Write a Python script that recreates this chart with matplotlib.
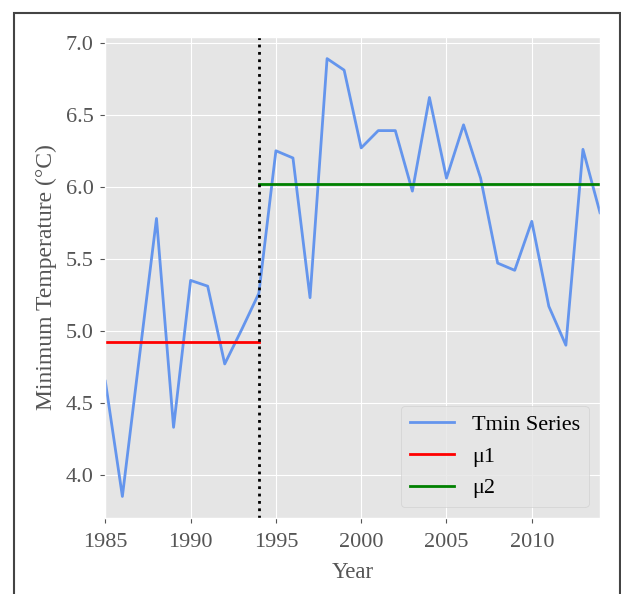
import matplotlib
matplotlib.use('Agg')
import matplotlib.pyplot as plt
from matplotlib.patches import Rectangle

# Tmin series
years = list(range(1985, 2015))
tmin = [4.65, 3.85, 4.82, 5.78, 4.33, 5.35, 5.31, 4.77, 5.01, 5.26,
        6.25, 6.20, 5.23, 6.89, 6.81, 6.27, 6.39, 6.39, 5.97, 6.62,
        6.06, 6.43, 6.06, 5.47, 5.42, 5.76, 5.17, 4.90, 6.26, 5.82]

# change point and segment means
change_year = 1994
mu1 = 4.92
mu2 = 6.02
mu1_span = [1985, 1994]
mu2_span = [1994, 2014]


def plot_series():
    plt.style.use('ggplot')
    plt.rcParams['font.family'] = ['Liberation Serif', 'DejaVu Serif']

    fig = plt.figure(figsize=(6.21, 5.94), dpi=100)
    ax = fig.add_axes([0.1696, 0.1274, 0.7966, 0.8108])

    ax.plot(years, tmin, color='cornflowerblue', lw=2, label='Tmin Series')
    ax.plot(mu1_span, [mu1, mu1], color='red', lw=2, label='μ1')
    ax.plot(mu2_span, [mu2, mu2], color='green', lw=2, label='μ2')
    ax.axvline(change_year, color='black', linestyle=':', lw=2)

    ax.set_xlim(1985, 2014)
    ax.set_xlabel('Year', fontsize=16.5, color='#555555', labelpad=7)
    ax.set_ylabel('Minimum Temperature (°C)', fontsize=17, color='#555555', labelpad=6)
    ax.tick_params(labelsize=16)
    ax.tick_params(axis='x', pad=7)
    ax.tick_params(axis='y', pad=5)

    leg = ax.legend(loc='lower right', fontsize=16)
    for t in leg.get_texts():
        t.set_color('black')

    # outer frame of the screenshot (open at the bottom)
    fig.patches.append(Rectangle((13.5 / 621, -0.2), (620 - 13.5) / 621, 1.2 - 13 / 594,
                                 transform=fig.transFigure, fill=False,
                                 edgecolor='#444444', lw=1.5, clip_on=False))

    fig.savefig('out.png', dpi=100)


if __name__ == "__main__":
    plot_series()
